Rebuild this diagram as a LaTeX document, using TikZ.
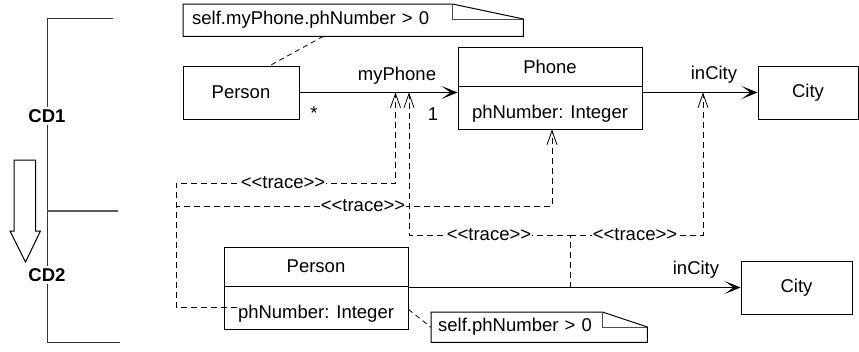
\documentclass[tikz,border=0pt]{standalone}
\usepackage{fontspec}
\newfontfamily\arialf{Liberation Sans}
\usetikzlibrary{arrows.meta,calc}
\begin{document}
\begin{tikzpicture}[x=1pt,y=-1pt,
  every node/.style={font=\arialf\fontsize{18.5}{22}\selectfont, inner sep=0pt},
  cls/.style={draw, line width=1pt},
  attr/.style={cls, text height=21pt, text depth=0pt},
  lbl/.style={},
  tlbl/.style={fill=white, inner xsep=1pt, inner ysep=1pt},
  notetext/.style={anchor=north west, align=left},
  assoc/.style={line width=1pt, -{Stealth[length=16pt,width=13pt,inset=9pt]}},
  trace/.style={line width=0.8pt, dash pattern=on 6pt off 4pt, -{Straight Barb[length=14pt,width=10pt]}},
  notelink/.style={line width=0.8pt, dash pattern=on 5pt off 4pt},
  bracket/.style={line width=1pt, black!80}
]
\useasboundingbox (0,0) rectangle (859,351);

% ---- left bracket with CD1 / CD2 ----
\draw[bracket] (113,18) -- (47,18) -- (47,342) -- (120,342);
\draw[line width=2.5pt, black!65] (47,211) -- (118,211);
\node[fill=white, inner ysep=2pt, font=\arialf\bfseries\fontsize{18.5}{22}\selectfont] (cd1) at (47,116) {CD1};
\node[fill=white, inner ysep=2pt, font=\arialf\bfseries\fontsize{18.5}{22}\selectfont] (cd2) at (47,275) {CD2};
\draw[line width=1pt] (14,160) -- (35.5,160) -- (35.5,231) -- (40.5,231) -- (25.5,262) -- (10,231) -- (14,231) -- cycle;

% ---- CD1 ----
\node[cls, minimum width=116pt, minimum height=53pt] (person1) at (241,92.5) {Person};
\node[cls, minimum width=184pt, minimum height=39pt] (phoneT) at (550,66.5) {Phone};
\node[attr, minimum width=184pt, minimum height=43pt] (phoneA) at (550,107.5) {phNumber: Integer};
\node[cls, minimum width=100pt, minimum height=53pt] (city1) at (808,92.5) {City};

\node[notetext, minimum width=340pt, minimum height=32pt, text width=322pt, inner xsep=9pt] (note1) at (183,4) {self.myPhone.phNumber > 0};
\draw[line width=1pt] (note1.north west) -- ([xshift=-71pt]note1.north east) -- ([yshift=-15pt]note1.north east) -- (note1.south east) -- (note1.south west) -- cycle;
\draw[line width=1pt, black!70] ([xshift=-71pt]note1.north east) -- ([xshift=-71pt,yshift=-15pt]note1.north east) -- ([yshift=-15pt]note1.north east);
\draw[notelink] ([xshift=-30pt]note1.south) -- ([xshift=29pt]person1.north);

\draw[assoc] (person1.east) -- (person1.east -| phoneA.west);
\draw[assoc] (person1.east -| phoneA.east) -- (city1.west);
\node[lbl] (lmy) at (397,76) {myPhone};
\node[lbl] (lstar) at (314,113) {*};
\node[lbl] (lone) at (433,114) {1};
\node[lbl] (lin1) at (714,75) {inCity};

% ---- CD2 ----
\node[cls, minimum width=184pt, minimum height=39pt] (person2T) at (316,266.5) {Person};
\node[attr, minimum width=184pt, minimum height=43pt] (person2A) at (316,307.5) {phNumber: Integer};
\node[cls, minimum width=111pt, minimum height=53pt] (city2) at (796.5,287.5) {City};

\node[notetext, minimum width=216pt, minimum height=30pt, text width=202pt, inner xsep=7pt] (note2) at (431,312) {self.phNumber > 0};
\draw[line width=1pt] (note2.north west) -- ([xshift=-45pt]note2.north east) -- ([yshift=-15pt]note2.north east) -- (note2.south east) -- (note2.south west) -- cycle;
\draw[line width=1pt, black!70] ([xshift=-45pt]note2.north east) -- ([xshift=-45pt,yshift=-15pt]note2.north east) -- ([yshift=-15pt]note2.north east);
\draw[notelink] ([yshift=-2pt]person2A.east) -- (note2.west);

\draw[assoc] (city2.west -| person2A.east) -- (city2.west);
\node[lbl] (lin2) at (696,270) {inCity};

% ---- trace dependencies ----
\coordinate (tA) at (395.5,92.5);
\coordinate (tB) at (409,92.5);
\coordinate (tC) at (703,92.5);
\coordinate (src2) at (570,287.5);
\coordinate (j) at (570,235);

\draw[trace] ([xshift=13pt]person2A.west) -| (176,183) -| (tA);
\draw[trace] ([xshift=13pt]person2A.west) -| (176,206) -| ([xshift=2pt]phoneA.south);
\draw[trace] (src2) -- (j) -| (tB);
\draw[trace] (j) -| (tC);

\node[tlbl] (tr1) at (283,183) {<\kern0pt<trace>\kern0pt>};
\node[tlbl] (tr2) at (363,206) {<\kern0pt<trace>\kern0pt>};
\node[tlbl] (tr3) at (489,235) {<\kern0pt<trace>\kern0pt>};
\node[tlbl] (tr4) at (635,235) {<\kern0pt<trace>\kern0pt>};
\end{tikzpicture}
\end{document}
